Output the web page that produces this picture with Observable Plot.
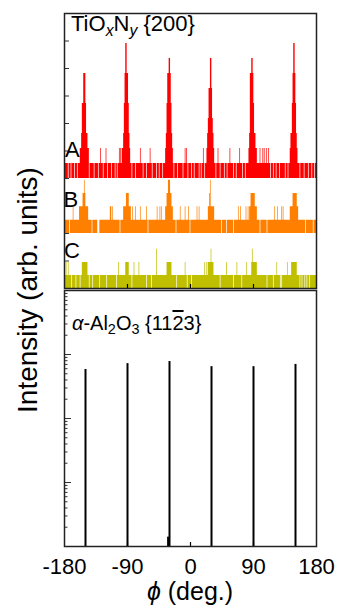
<!DOCTYPE html>
<html><head><meta charset="utf-8">
<script src="https://cdn.jsdelivr.net/npm/d3@7"></script>
<script src="https://cdn.jsdelivr.net/npm/@observablehq/plot@0.6"></script>
<style>
body{margin:0;background:#fff;font-family:"Liberation Sans",Arial,sans-serif;}
#wrap{position:relative;width:338px;height:606px;overflow:hidden;background:#fff;}
#wrap svg{position:absolute;left:0;}
.abs{position:absolute;white-space:nowrap;line-height:1;color:#000;font-family:"Liberation Sans",Arial,sans-serif;}
.sb{font-size:0.72em;position:relative;top:0.3em;}
</style></head><body><div id="wrap"></div>
<script>
// ---- axis ticks ----
const phiTicks = [-180, -90, 0, 90, 180];
const phiTickLabels = ["-180", "-90", "0", "90", "180"];

// ---- TiOxNy {200} phi scans (count levels; unlisted points = level 1) ----
const traceNames = ["A", "B", "C"];
const traceColors = ["#ff0000", "#ff8000", "#bfbf00"];
const traceOffsets = [4, 2, 0];
const traceStep = [0.545, 0.485, 0.475];

const A_spikes = [
  [-157,2],[-156,2],[-155,3],[-154,5],[-153,5],[-152,7],[-151,7],[-150,7],[-149,5],[-148,3],[-147,3],[-146,2],[-145,2],
  [-128,2],[-120,2],[-101,2],[-99,2],
  [-97,2],[-96,2],[-95,3],[-94,5],[-93,7],[-92,9],[-91,9],[-90,7],[-89,7],[-88,5],[-87,3],[-86,2],
  [-71,2],[-57,2],
  [-35,2],[-34,3],[-33,5],[-32,7],[-31,7],[-30,8],[-29,8],[-28,7],[-27,5],[-26,3],[-25,2],
  [-7,2],[-5,2],[19,2],
  [24,2],[25,3],[26,4],[27,6],[28,6],[29,8],[30,8],[31,6],[32,4],[33,3],[34,2],
  [40,2],[57,2],[71,2],
  [84,2],[85,3],[86,7],[87,7],[88,8],[89,8],[90,7],[91,5],[92,3],[93,3],[94,2],
  [95,2],[100,2],[104,2],[106,2],[109,2],[112,2],
  [143,2],[144,3],[145,3],[146,5],[147,7],[148,9],[149,9],[150,7],[151,5],[152,3],[153,2]
];
const A_gaps = [-174,-170,-165,-161,-144,-137,-131,-124,-118,-112,-107,-104,-83,-78,-67,-62,-54,-48,-44,-39,
  -23,-18,-10,-3,2,6,13,16,21,37,43,49,53,62,66,75,79,115,119,123,128,136,140,157,163,169,174,178];

const B_spikes = [
  [-167,2],
  [-158,2],[-157,2],[-156,2],[-155,2],[-154,2],[-153,3],[-152,3],[-151,4],[-150,3],[-149,2],[-148,2],[-147,2],[-146,2],
  [-114,2],[-113,2],[-111,2],
  [-95,2],[-94,2],[-93,2],[-92,2],[-91,3],[-90,3],[-89,3],[-88,3],[-87,2],[-86,2],[-85,2],
  [-82,2],[-78,2],[-71,2],[-62,2],[-47,2],[-43,2],[-41,2],
  [-35,2],[-34,2],[-33,3],[-32,3],[-31,4],[-30,4],[-29,4],[-28,3],[-27,3],[-26,2],[-25,2],
  [-14,2],[-7,2],[-2,2],[10,2],[13,2],
  [26,2],[27,2],[28,3],[29,4],[30,2],[31,2],[32,2],[33,2],[34,2],
  [69,2],[72,2],[80,2],[83,2],
  [85,2],[86,2],[87,3],[88,3],[89,3],[90,3],[91,3],[92,3],[93,2],[94,2],[95,2],
  [121,2],[125,2],[131,2],[133,2],
  [143,2],[144,2],[145,2],[146,2],[147,3],[148,3],[149,3],[150,3],[151,3],[152,3],[153,2],[154,2]
];
const B_gaps = [-172,-140,-132,-131,-130,-100,-60,-20,0,45,52,62,100,110,165,176];

const C_spikes = [
  [-177,2],[-174,2],
  [-154,2],[-153,2],[-152,2],[-151,2],[-150,2],[-149,2],[-148,2],[-147,2],
  [-102,2],[-92,2],[-91,2],[-90,2],[-89,2],[-88,2],[-80,2],[-73,2],[-48,3],
  [-33,2],[-32,2],[-31,2],[-30,2],[-29,2],[-28,2],[-27,2],[-7,2],
  [21,2],[24,2],[26,2],[27,2],[28,2],[29,2],[30,3],[31,2],[32,2],[33,2],
  [52,2],[67,2],[81,2],
  [88,2],[89,3],[90,2],[91,2],[92,2],[93,2],[94,2],[95,2],
  [124,2],[139,2],
  [145,2],[146,2],[147,2],[148,2],[149,2],[150,2],[151,2],[152,2]
];
const C_gaps = [-169,-163,-157,-144,-139,-129,-119,-105,-83,-62,-55,-19,-4,2,43,62,74,110,119,129,131,157,160,164,167,171];

// ---- alpha-Al2O3 {11-23} phi scan (log intensity) ----
const substratePhi = [-150, -90, -30, 30, 90, 150, -32];
const substrateIntensity = [583, 720, 776, 646, 646, 700, 1.4];

// ---------------------------------------------------------------
const FONT = '"Liberation Sans", Arial, sans-serif';
const W = 338, ML = 64, MR = 22;
const phiGrid = d3.range(-180, 181);
function buildSeries(spikes, gaps, k) {
  const m = new Map(spikes), g = new Set(gaps);
  return phiGrid.map(p => ({phi: p, trace: traceNames[k],
    base: traceOffsets[k],
    top: traceOffsets[k] + traceStep[k] * (m.has(p) ? m.get(p) : (g.has(p) ? 0 : 1))}));
}
const traces = [buildSeries(A_spikes, A_gaps, 0), buildSeries(B_spikes, B_gaps, 1), buildSeries(C_spikes, C_gaps, 2)];

const topH = 289, topMT = 13, topMB = 1;
const topPlot = Plot.plot({
  width: W, height: topH, marginTop: topMT, marginBottom: topMB, marginLeft: ML, marginRight: MR,
  style: {background: "transparent", fontFamily: FONT, overflow: "visible"},
  x: {domain: [-180, 180], axis: null},
  y: {domain: [0, 10], axis: null},
  marks: [
    ...traces.map((t, k) => Plot.areaY(t, {x: "phi", y1: "base", y2: "top", curve: "step", fill: traceColors[k]})),
    Plot.tickY(d3.range(1, 10), {y: d => d, insetRight: (W - ML - MR) - 5, stroke: "#333", strokeWidth: 1}),
    Plot.tickX([-90, 0, 90], {x: d => d, insetTop: (topH - topMT - topMB) - 4, stroke: "#000", strokeWidth: 1.2}),
    Plot.frame({stroke: "#222", strokeWidth: 1.5})
  ]
});
topPlot.style.top = "0px";

const subs = substratePhi.map((p, i) => ({phi: p, v: substrateIntensity[i]}));
const majors = [10, 100, 1000];
const minors = [];
for (const dec of [1, 10, 100, 1000]) for (let k = 2; k <= 9; k++) minors.push(dec * k);

const botH = 317, botMT = 1, botMB = 60;
const botPlot = Plot.plot({
  width: W, height: botH, marginTop: botMT, marginBottom: botMB, marginLeft: ML, marginRight: MR,
  style: {background: "transparent", fontFamily: FONT, fontSize: "22px", color: "#000", overflow: "visible"},
  x: {domain: [-180, 180], ticks: phiTicks, tickFormat: d => phiTickLabels[phiTicks.indexOf(d)], tickSize: 0, tickPadding: 12, label: null},
  y: {type: "log", domain: [1, 1e4], axis: null},
  marks: [
    Plot.ruleX(subs, {x: "phi", y1: 1, y2: "v", stroke: "#000", strokeWidth: 2}),
    Plot.tickY(majors, {y: d => d, insetRight: (W - ML - MR) - 7, stroke: "#333", strokeWidth: 1}),
    Plot.tickY(minors, {y: d => d, insetRight: (W - ML - MR) - 3.5, stroke: "#333", strokeWidth: 1}),
    Plot.tickX([-90, 0, 90], {x: d => d, insetTop: (botH - botMT - botMB) - 4, stroke: "#000", strokeWidth: 1.2}),
    Plot.frame({stroke: "#222", strokeWidth: 1.5})
  ]
});
botPlot.style.top = "289px";

const wrap = document.getElementById("wrap");
wrap.appendChild(topPlot);
wrap.appendChild(botPlot);

function addText(html, css) {
  const d = document.createElement("div");
  d.className = "abs";
  d.innerHTML = html;
  Object.assign(d.style, css);
  wrap.appendChild(d);
  return d;
}
addText('TiO<span class="sb" style="font-style:italic">x</span>N<span class="sb" style="font-style:italic">y</span> {200}', {left: "71px", top: "13px", fontSize: "22px"});
addText(traceNames[0], {left: "65px", top: "139px", fontSize: "22px"});
addText(traceNames[1], {left: "63.5px", top: "188.5px", fontSize: "22px"});
addText(traceNames[2], {left: "64px", top: "239.5px", fontSize: "22px"});
addText('<i>α</i>-Al<span class="sb">2</span>O<span class="sb">3</span> {11<span style="text-decoration:overline">2</span>3}', {left: "72px", top: "313px", fontSize: "20px"});
addText('Intensity (arb. units)', {left: "27.6px", top: "290px", fontSize: "28px", transform: "translate(-50%,-50%) rotate(-90deg)"});
addText('<i>ϕ</i> (deg.)', {left: "190px", top: "579px", fontSize: "25px", transform: "translateX(-50%)"});
</script>
</body></html>
